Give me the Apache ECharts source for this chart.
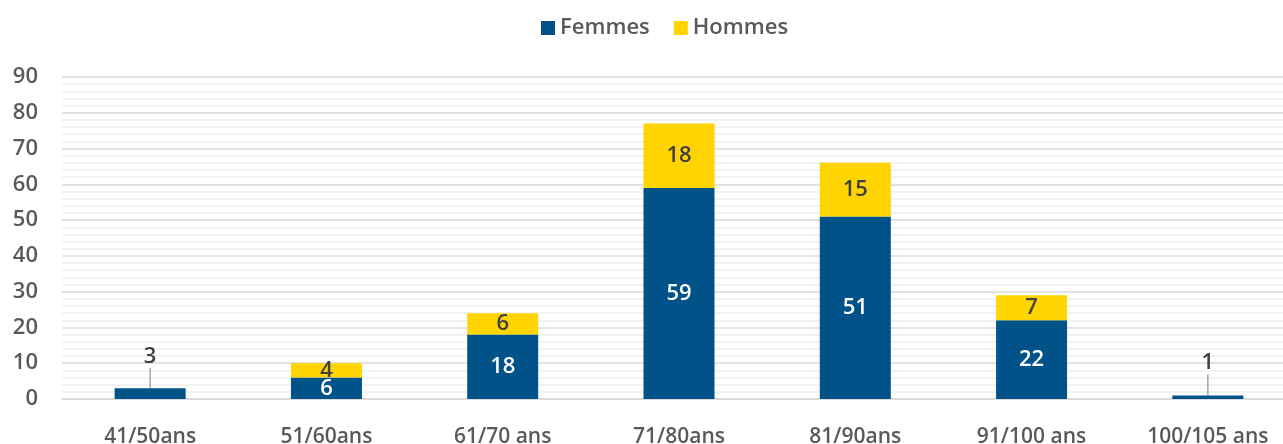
<!DOCTYPE html>
<html>
<head>
<meta charset="utf-8">
<script src="https://cdn.jsdelivr.net/npm/echarts@6/dist/echarts.min.js"></script>
<style>
  html, body { margin: 0; padding: 0; background: #fff; overflow: hidden; }
  #chart { width: 1296px; height: 444px; }
</style>
</head>
<body>
<div id="chart"></div>
<script>
  // tranches d'age
  var categories = ['41/50ans', '51/60ans', '61/70 ans', '71/80ans', '81/90ans', '91/100 ans', '100/105 ans'];
  var femmes = [3, 6, 18, 59, 51, 22, 1];
  var hommes = [0, 4, 6, 18, 15, 7, 0];
  var yTicks = [0, 10, 20, 30, 40, 50, 60, 70, 80, 90];

  var fontFam = '"Open Sans", "Noto Sans", sans-serif';
  var grey = '#595959';
  // petites valeurs : etiquette au-dessus avec trait
  var smallIdx = [0, 6];

  var chart = echarts.init(document.getElementById('chart'));
  chart.setOption({
    animation: false,
    textStyle: { fontFamily: fontFam },
    legend: {
      top: 12,
      left: 536,
      itemWidth: 14,
      itemHeight: 14,
      itemGap: 24,
      icon: 'rect',
      textStyle: { color: grey, fontSize: 22, fontWeight: 600, fontFamily: fontFam }
    },
    grid: {
      left: 62,
      right: 0,
      top: 77,
      bottom: 45,
      outerBoundsMode: 'none'
    },
    xAxis: {
      type: 'category',
      data: categories,
      axisTick: { show: false },
      axisLine: { lineStyle: { color: '#d9d9d9', width: 1.5 } },
      axisLabel: { color: grey, fontSize: 21, fontWeight: 600, margin: 28, fontFamily: fontFam }
    },
    yAxis: {
      type: 'value',
      min: yTicks[0],
      max: yTicks[yTicks.length - 1],
      interval: 10,
      axisLine: { show: false },
      axisTick: { show: false },
      axisLabel: { color: grey, fontSize: 22, fontWeight: 600, margin: 24, fontFamily: fontFam },
      splitLine: { lineStyle: { color: '#d9d9d9', width: 1.5 } },
      minorTick: { show: false, splitNumber: 5 },
      minorSplitLine: { show: true, lineStyle: { color: '#eeeeee', width: 1.5 } }
    },
    series: [
      {
        name: 'Femmes',
        type: 'bar',
        stack: 'total',
        barWidth: 71,
        itemStyle: { color: '#005288' },
        data: femmes.map(function (v, i) {
          if (smallIdx.indexOf(i) >= 0) {
            return { value: v, label: { color: '#404040' } };
          }
          return v;
        }),
        label: {
          show: true,
          position: 'inside',
          color: '#ffffff',
          fontSize: 22,
          fontWeight: 600,
          fontFamily: fontFam
        },
        labelLine: { show: true, lineStyle: { color: '#a6a6a6', width: 1.5 } },
        labelLayout: function (p) {
          if (smallIdx.indexOf(p.dataIndex) >= 0) {
            return { dy: p.dataIndex === 0 ? -37 : -34 };
          }
          return {};
        }
      },
      {
        name: 'Hommes',
        type: 'bar',
        stack: 'total',
        barWidth: 71,
        itemStyle: { color: '#FFD400' },
        data: hommes,
        label: {
          show: true,
          position: 'inside',
          color: '#404040',
          fontSize: 22,
          fontWeight: 600,
          fontFamily: fontFam,
          formatter: function (p) { return p.value ? p.value : ''; }
        }
      }
    ]
  });
</script>
</body>
</html>
